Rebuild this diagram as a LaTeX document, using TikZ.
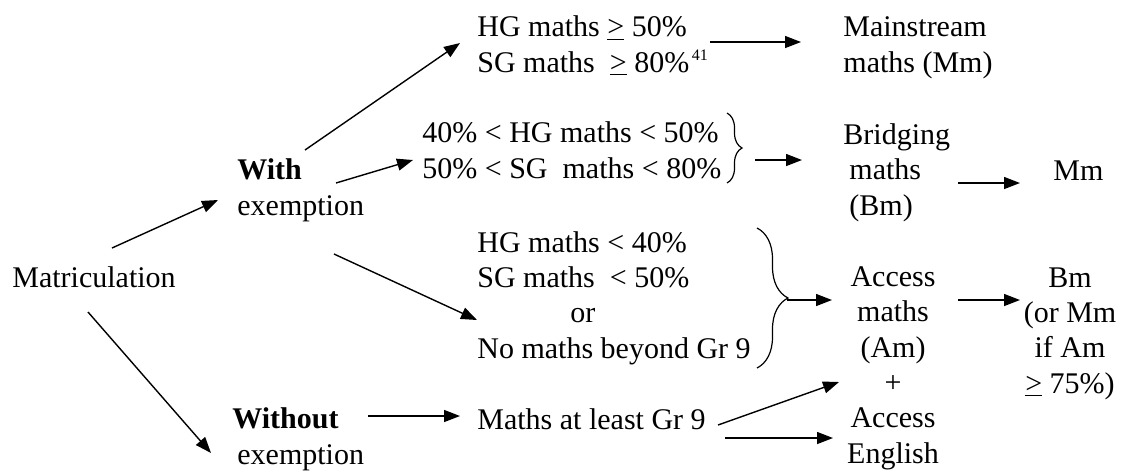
\documentclass[tikz,border=0pt]{standalone}
\usepackage{fontspec}
\setmainfont{Liberation Serif}
\usetikzlibrary{arrows.meta,decorations.pathreplacing}

\begin{document}
\begin{tikzpicture}[x=0.5pt,y=-0.5pt,font=\fontsize{15}{17.65}\selectfont]
% Define styles
\tikzstyle{txt}=[inner sep=0pt, align=left, anchor=base west]
\tikzstyle{col}=[inner sep=0pt, align=center, anchor=base]
\tikzstyle{arr}=[-{Triangle[length=8pt,width=6pt]}, line width=0.7pt]
\tikzstyle{brc}=[decorate, line width=0.6pt]

\useasboundingbox (0,0) rectangle (1128,473);

% Starting point (nodes sit on the baseline of their last line)
\node[txt] (matric) at (12,287) {Matriculation};
\node[txt] (with) at (237,215) {\textbf{With}\\exemption};
\node[txt] (without) at (232,464) {\textbf{Without}\\\hspace*{2.5pt}exemption};

% Conditions
\node[txt] (cond1) at (477,72) {HG maths \underline{>} 50\%\\SG maths\ \ \underline{>} 80\%\raisebox{6pt}{\fontsize{8}{9}\selectfont\,41}};
\node[txt] (cond2) at (422,178) {40\% < HG maths < 50\%\\50\% < SG\ \ maths < 80\%};
\node[txt] (cond3) at (477,358) {HG maths < 40\%\\SG maths\ \ < 50\%\\\hspace*{46.5pt}or\\No maths beyond Gr 9};
\node[txt] (atleast) at (477,429) {Maths at least Gr 9};

% Courses
\node[txt] (mainstream) at (843,72) {Mainstream\\maths (Mm)};
\node[txt] (bridging) at (843,215) {Bridging\\\hspace*{3pt}maths\\\hspace*{3pt}(Bm)};
\node[txt] (mm) at (1053,180) {Mm};
\node[col] (access) at (893,463) {Access\\maths\\(Am)\\+\\Access\\English};
\node[col] (bm) at (1070,393) {Bm\\(or Mm\\if Am\\\underline{>} 75\%)};

% Braces
\draw[brc, decoration={brace, amplitude=7.5pt}] ([shift={(305,-65)}]cond2.base west) -- ([shift={(305,5)}]cond2.base west);
\draw[brc, decoration={brace, amplitude=15.5pt}] ([shift={(280,-130)}]cond3.base west) -- ([shift={(280,10)}]cond3.base west);

% Branches
\draw[arr] ([shift={(100,-39)}]matric.base west) -- ([shift={(-19,-15)}]with.base west);
\draw[arr] ([shift={(76,25)}]matric.base west) -- ([shift={(-21,-11)}]without.base west);
\draw[arr] ([shift={(68,-65)}]with.base west) -- ([shift={(-17,-29)}]cond1.base west);
\draw[arr] ([shift={(99,-32)}]with.base west) -- ([shift={(-9,-18)}]cond2.base west);
\draw[arr] ([shift={(97,39)}]with.base west) -- ([shift={(0,-38)}]cond3.base west);
\draw[arr] ([shift={(136,-48)}]without.base west) -- ([shift={(-17,-13)}]atleast.base west);

% Courses arrows
\draw[arr] ([shift={(233,-30)}]cond1.base west) -- ([shift={(-42,-30)}]mainstream.base west);
\draw[arr] ([shift={(333,-18)}]cond2.base west) -- ([shift={(-41,-55)}]bridging.base west);
\draw[arr] ([shift={(115,-32)}]bridging.base west) -- ([shift={(-33,3)}]mm.base west);
\draw[arr] ([shift={(310,-58)}]cond3.base west) -- ([shift={(-61,-163)}]access.base);
\draw[arr] ([shift={(65,-163)}]access.base) -- ([shift={(-50,-93)}]bm.base);
\draw[arr] ([shift={(241,-4)}]atleast.base west) -- ([shift={(-54,-81)}]access.base);
\draw[arr] ([shift={(248,9)}]atleast.base west) -- ([shift={(-60,-25)}]access.base);

\end{tikzpicture}
\end{document}
